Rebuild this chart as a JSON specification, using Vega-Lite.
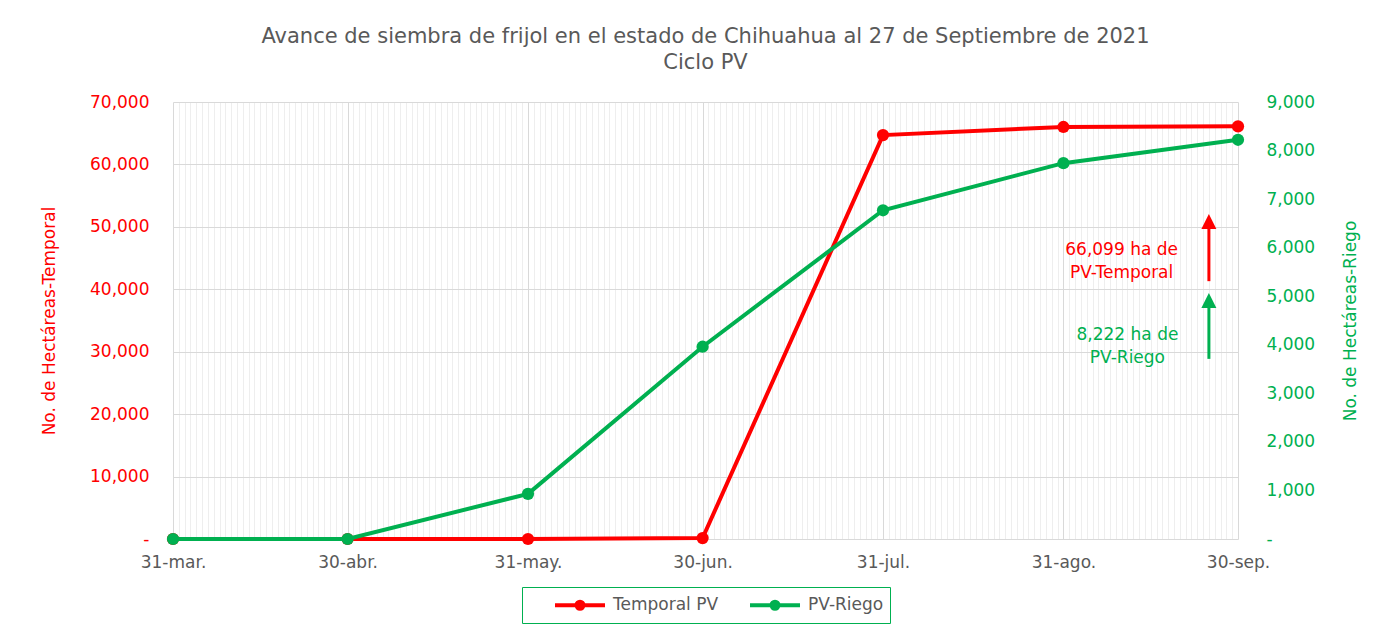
{
  "$schema": "https://vega.github.io/schema/vega-lite/v6.json",
  "width": 1065,
  "height": 437,
  "padding": {"left": 40, "right": 20, "top": 26, "bottom": 13},
  "background": "white",
  "title": {
    "text": ["Avance de siembra de frijol en el estado de Chihuahua al 27 de Septiembre de 2021", "Ciclo PV"],
    "fontSize": 21,
    "font": "DejaVu Sans",
    "fontWeight": "normal",
    "color": "#595959",
    "lineHeight": 26,
    "offset": 20,
    "anchor": "middle"
  },
  "datasets": {
    "series": [
      {"fecha": "2021-03-31", "serie": "Temporal PV", "ha": 0},
      {"fecha": "2021-04-30", "serie": "Temporal PV", "ha": 0},
      {"fecha": "2021-05-31", "serie": "Temporal PV", "ha": 0},
      {"fecha": "2021-06-30", "serie": "Temporal PV", "ha": 150},
      {"fecha": "2021-07-31", "serie": "Temporal PV", "ha": 64700},
      {"fecha": "2021-08-31", "serie": "Temporal PV", "ha": 66000},
      {"fecha": "2021-09-30", "serie": "Temporal PV", "ha": 66099},
      {"fecha": "2021-03-31", "serie": "PV-Riego", "ha": 0},
      {"fecha": "2021-04-30", "serie": "PV-Riego", "ha": 0},
      {"fecha": "2021-05-31", "serie": "PV-Riego", "ha": 930},
      {"fecha": "2021-06-30", "serie": "PV-Riego", "ha": 3960},
      {"fecha": "2021-07-31", "serie": "PV-Riego", "ha": 6770},
      {"fecha": "2021-08-31", "serie": "PV-Riego", "ha": 7740},
      {"fecha": "2021-09-30", "serie": "PV-Riego", "ha": 8222}
    ],
    "notas": [
      {"fecha": "2021-09-10", "serie": "Temporal PV", "ha": 46300, "texto": "66,099 ha de|PV-Temporal"},
      {"fecha": "2021-09-11", "serie": "PV-Riego", "ha": 4200, "texto": "8,222 ha de|PV-Riego"}
    ],
    "flechas": [
      {"fecha": "2021-09-25", "serie": "Temporal PV", "desde": 41300, "hasta": 50000, "punta": 50860},
      {"fecha": "2021-09-25", "serie": "PV-Riego", "desde": 3710, "hasta": 4820, "punta": 4910}
    ]
  },
  "layer": [
    {
      "data": {"name": "series"},
      "transform": [{"filter": "datum.serie == 'Temporal PV'"}],
      "mark": {"type": "line", "strokeWidth": 4, "point": {"filled": true, "size": 150}},
      "encoding": {
        "x": {
          "field": "fecha", "type": "temporal",
          "scale": {"type": "utc", "domain": [{"year": 2021, "month": 3, "date": 31, "utc": true}, {"year": 2021, "month": 9, "date": 30, "utc": true}], "nice": false},
          "axis": {
            "title": null,
            "tickCount": {"interval": "day", "step": 1},
            "grid": true,
            "gridColor": {"condition": {"test": "utcdate(time(datum.value) + 86400000) == 1", "value": "#d9d9d9"}, "value": "#eeeeee"},
            "labelExpr": "utcdate(time(datum.value) + 86400000) == 1 ? utcdate(datum.value) + '-' + ['ene','feb','mar','abr','may','jun','jul','ago','sep','oct','nov','dic'][utcmonth(datum.value)] + '.' : ''",
            "labelOverlap": false,
            "labelFlush": false,
            "ticks": false,
            "domain": false,
            "labelFontSize": 17,
            "labelColor": "#595959",
            "labelPadding": 15,
            "minExtent": 32,
            "maxExtent": 32
          }
        },
        "y": {
          "field": "ha", "type": "quantitative",
          "scale": {"domain": [0, 70000], "nice": false},
          "axis": {
            "orient": "left",
            "values": [0, 10000, 20000, 30000, 40000, 50000, 60000, 70000],
            "labelExpr": "datum.value == 0 ? '-   ' : format(datum.value, ',')",
            "labelColor": "#FF0000",
            "labelFontSize": 17,
            "labelPadding": 24,
            "ticks": false,
            "domain": false,
            "grid": true,
            "gridColor": "#d9d9d9",
            "title": "No. de Hectáreas-Temporal",
            "titleColor": "#FF0000",
            "titleFontSize": 17,
            "titleFontWeight": "normal",
            "titlePadding": 16,
            "minExtent": 99,
            "maxExtent": 99
          }
        },
        "color": {
          "datum": "Temporal PV", "type": "nominal",
          "scale": {"domain": ["Temporal PV", "PV-Riego"], "range": ["#FF0000", "#00B050"]},
          "legend": {
            "title": null,
            "orient": "bottom",
            "direction": "horizontal",
            "symbolType": "M1.5,0L6.5,0M4.35,0A0.35,0.35,0,1,1,3.65,0A0.35,0.35,0,1,1,4.35,0Z",
            "symbolSize": 400,
            "symbolStrokeWidth": 4,
            "labelFontSize": 17,
            "labelColor": "#595959",
            "labelOffset": 61,
            "columnPadding": 4,
            "strokeColor": "#00B050",
            "padding": 6,
            "offset": 16
          }
        }
      }
    },
    {
      "data": {"name": "notas"},
      "transform": [{"filter": "datum.serie == 'Temporal PV'"}],
      "mark": {"type": "text", "lineBreak": "|", "align": "center", "baseline": "middle", "fontSize": 17, "color": "#FF0000", "lineHeight": 23},
      "encoding": {
        "x": {"field": "fecha", "type": "temporal"},
        "y": {"field": "ha", "type": "quantitative", "scale": {"domain": [0, 70000], "nice": false}, "axis": null},
        "text": {"field": "texto", "type": "nominal"}
      }
    },
    {
      "data": {"name": "flechas"},
      "transform": [{"filter": "datum.serie == 'Temporal PV'"}],
      "mark": {"type": "rule", "strokeWidth": 3, "color": "#FF0000"},
      "encoding": {
        "x": {"field": "fecha", "type": "temporal"},
        "y": {"field": "desde", "type": "quantitative", "scale": {"domain": [0, 70000], "nice": false}, "axis": null},
        "y2": {"field": "hasta"}
      }
    },
    {
      "data": {"name": "flechas"},
      "transform": [{"filter": "datum.serie == 'Temporal PV'"}],
      "mark": {"type": "point", "shape": "M0,-1L1,1L-1,1Z", "size": 225, "filled": true, "color": "#FF0000", "opacity": 1},
      "encoding": {
        "x": {"field": "fecha", "type": "temporal"},
        "y": {"field": "punta", "type": "quantitative", "scale": {"domain": [0, 70000], "nice": false}, "axis": null}
      }
    },
    {
      "data": {"name": "series"},
      "transform": [{"filter": "datum.serie == 'PV-Riego'"}],
      "mark": {"type": "line", "strokeWidth": 4, "point": {"filled": true, "size": 150}},
      "encoding": {
        "x": {"field": "fecha", "type": "temporal"},
        "y": {
          "field": "ha", "type": "quantitative",
          "scale": {"domain": [0, 9000], "nice": false},
          "axis": {
            "orient": "right",
            "values": [0, 1000, 2000, 3000, 4000, 5000, 6000, 7000, 8000, 9000],
            "labelExpr": "datum.value == 0 ? '-' : format(datum.value, ',')",
            "labelColor": "#00B050",
            "labelFontSize": 17,
            "labelPadding": 28,
            "ticks": false,
            "domain": false,
            "grid": false,
            "title": "No. de Hectáreas-Riego",
            "titleColor": "#00B050",
            "titleFontSize": 17,
            "titleFontWeight": "normal",
            "titleAngle": 270,
            "titlePadding": 33,
            "minExtent": 88,
            "maxExtent": 88
          }
        },
        "color": {"datum": "PV-Riego", "type": "nominal"}
      }
    },
    {
      "data": {"name": "notas"},
      "transform": [{"filter": "datum.serie == 'PV-Riego'"}],
      "mark": {"type": "text", "lineBreak": "|", "align": "center", "baseline": "middle", "fontSize": 17, "color": "#00B050", "lineHeight": 23},
      "encoding": {
        "x": {"field": "fecha", "type": "temporal"},
        "y": {"field": "ha", "type": "quantitative", "scale": {"domain": [0, 9000], "nice": false}, "axis": null},
        "text": {"field": "texto", "type": "nominal"}
      }
    },
    {
      "data": {"name": "flechas"},
      "transform": [{"filter": "datum.serie == 'PV-Riego'"}],
      "mark": {"type": "rule", "strokeWidth": 3, "color": "#00B050"},
      "encoding": {
        "x": {"field": "fecha", "type": "temporal"},
        "y": {"field": "desde", "type": "quantitative", "scale": {"domain": [0, 9000], "nice": false}, "axis": null},
        "y2": {"field": "hasta"}
      }
    },
    {
      "data": {"name": "flechas"},
      "transform": [{"filter": "datum.serie == 'PV-Riego'"}],
      "mark": {"type": "point", "shape": "M0,-1L1,1L-1,1Z", "size": 225, "filled": true, "color": "#00B050", "opacity": 1},
      "encoding": {
        "x": {"field": "fecha", "type": "temporal"},
        "y": {"field": "punta", "type": "quantitative", "scale": {"domain": [0, 9000], "nice": false}, "axis": null}
      }
    }
  ],
  "resolve": {"scale": {"y": "independent"}, "axis": {"y": "independent"}},
  "config": {
    "view": {"stroke": null},
    "font": "DejaVu Sans",
    "axis": {"labelFont": "DejaVu Sans", "titleFont": "DejaVu Sans"},
    "legend": {"labelFont": "DejaVu Sans", "layout": {"bottom": {"anchor": "middle"}}},
    "text": {"font": "DejaVu Sans"}
  }
}
